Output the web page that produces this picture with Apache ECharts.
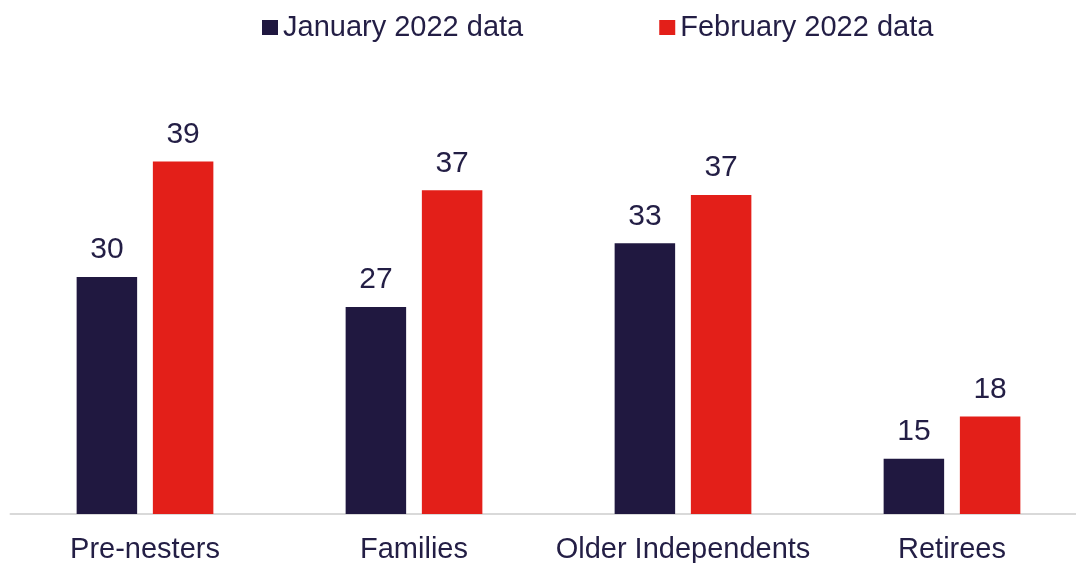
<!DOCTYPE html>
<html>
<head>
<meta charset="utf-8">
<style>
  html, body { margin: 0; padding: 0; background: #fff; }
  #chart { width: 1076px; height: 563px; }
</style>
<script src="https://cdn.jsdelivr.net/npm/echarts@6/dist/echarts.min.js"></script>
</head>
<body>
<div id="chart"></div>
<script>
var categories = ['Pre-nesters', 'Families', 'Older Independents', 'Retirees'];
var seriesNames = ['January 2022 data', 'February 2022 data'];
// values as shown by the bar heights; labels show them rounded
var janData = [29.7, 27.2, 32.5, 14.6];
var febData = [39.3, 36.9, 36.5, 18.1];

var textColor = '#231e45';
var chart = echarts.init(document.getElementById('chart'));

var labelStyle = {
  show: true,
  position: 'top',
  distance: 12,
  color: textColor,
  fontFamily: 'Liberation Sans, Arial, sans-serif',
  fontSize: 30,
  formatter: function (p) { return Math.round(p.value); }
};

var option = {
  backgroundColor: '#fff',
  animation: false,
  legend: {
    data: seriesNames,
    left: 257,
    top: 8,
    icon: 'rect',
    itemWidth: 16,
    itemHeight: 15,
    itemGap: 136,
    textStyle: {
      color: textColor,
      fontFamily: 'Liberation Sans, Arial, sans-serif',
      fontSize: 29
    }
  },
  grid: {
    left: 10.5,
    right: -10.5,
    bottom: 49,
    top: 153,
    outerBoundsMode: 'none'
  },
  xAxis: {
    type: 'category',
    data: categories,
    axisTick: { show: false },
    axisLine: { show: true, lineStyle: { color: '#d9d9d9', width: 2 } },
    axisLabel: {
      interval: 0,
      color: textColor,
      fontFamily: 'Liberation Sans, Arial, sans-serif',
      fontSize: 29,
      margin: 21
    }
  },
  yAxis: {
    type: 'value',
    min: 10,
    max: 40,
    show: false
  },
  series: [
    {
      name: seriesNames[0],
      type: 'bar',
      data: janData,
      barWidth: 60.5,
      barGap: '26%',
      itemStyle: { color: '#201840' },
      label: labelStyle
    },
    {
      name: seriesNames[1],
      type: 'bar',
      data: febData,
      barWidth: 60.5,
      itemStyle: { color: '#e31f19' },
      label: labelStyle
    }
  ]
};

chart.setOption(option);
</script>
</body>
</html>
